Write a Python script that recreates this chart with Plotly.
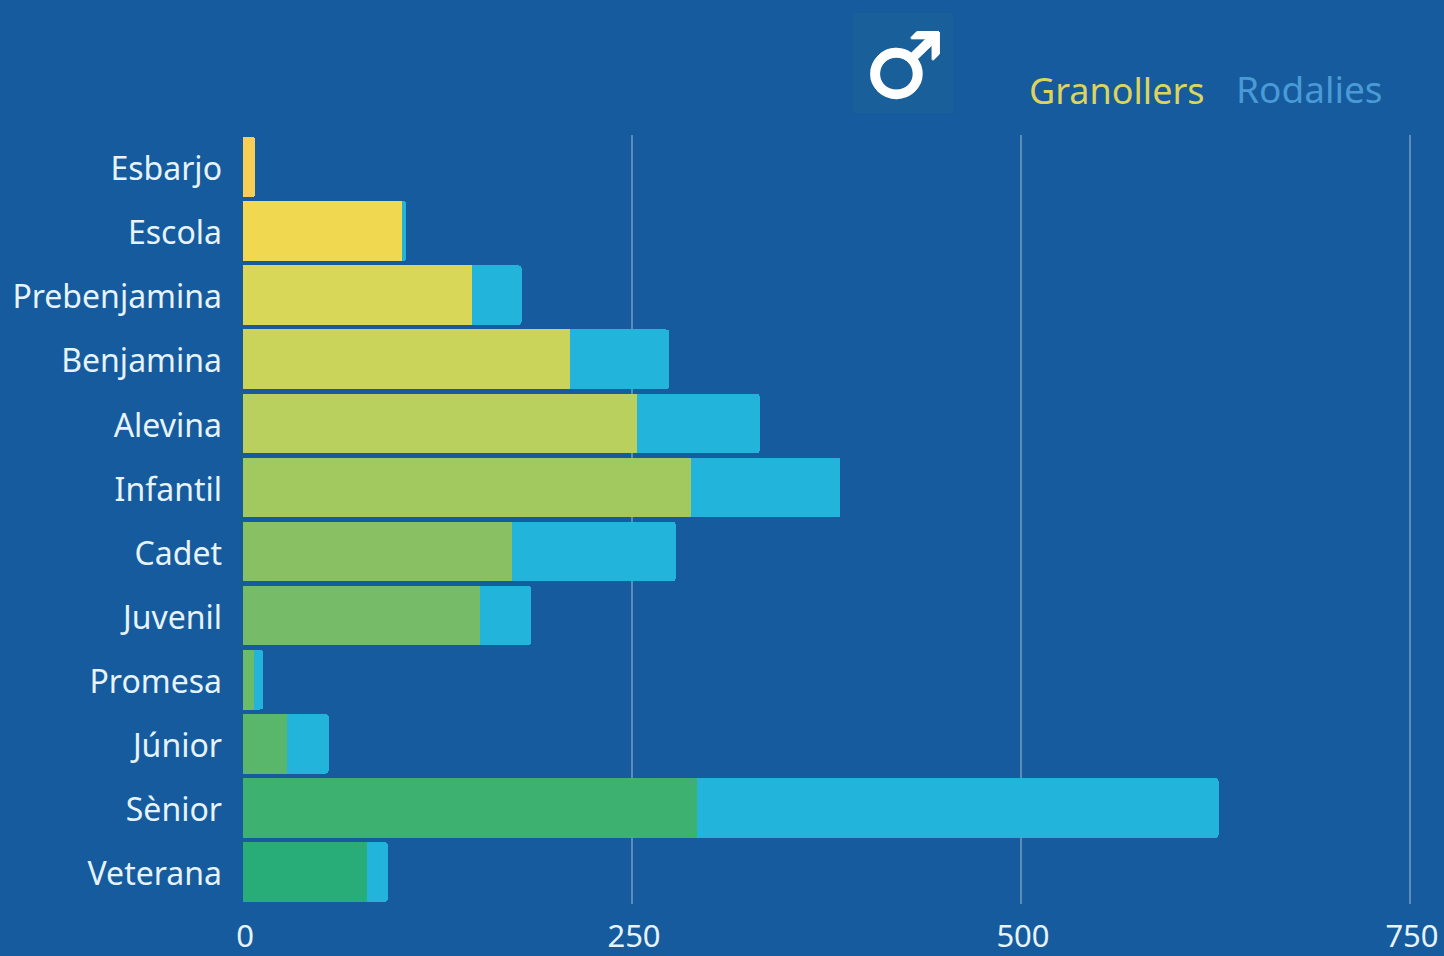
import plotly.graph_objects as go

categories = ["Esbarjo", "Escola", "Prebenjamina", "Benjamina", "Alevina", "Infantil",
              "Cadet", "Juvenil", "Promesa", "Júnior", "Sènior", "Veterana"]
granollers = [8, 102, 147, 210, 253, 288, 173, 152, 7, 28, 292, 80]
rodalies = [0, 3, 32, 64, 79, 96, 105, 33, 6, 27, 335, 13]
granollers_colors = ["#F7CF55", "#F0D950", "#D9D757", "#CAD45A", "#B9D05E", "#A2C860",
                     "#89C063", "#76BC68", "#6CBB68", "#58B76B", "#3DB170", "#29AD78"]
rodalies_color = "#23B4DC"
tick_values = [0, 250, 500, 750]
tick_labels = ["0", "250", "500", "750"]

BG = "#155B9E"
TEXT = "#E6F3FA"
FONT = "Noto Sans"

W, H = 1444, 956
L, R, T, B = 243, 11, 135, 52
def px(x): return (x - L) / (W - L - R)
def py(y): return 1 - (y - T) / (H - T - B)

fig = go.Figure()
fig.add_bar(y=categories, x=granollers, name="Granollers", orientation="h",
            marker=dict(color=granollers_colors, line_width=0))
fig.add_bar(y=categories, x=rodalies, name="Rodalies", orientation="h",
            marker=dict(color=rodalies_color, line_width=0))

fig.update_layout(
    width=W, height=H, autosize=False,
    barmode="stack", bargap=0.07, barcornerradius=3,
    showlegend=False,
    paper_bgcolor=BG, plot_bgcolor=BG,
    margin=dict(l=L, r=R, t=T, b=B, pad=0),
    font=dict(family=FONT, color=TEXT, size=32),
    xaxis=dict(range=[0, 764.8], tickvals=tick_values, ticktext=tick_labels,
               showgrid=True, gridcolor="rgba(255,255,255,0.3)", gridwidth=2,
               zeroline=False, showline=False, ticks="", ticklabelstandoff=11,
               ticklabelshift=2,
               tickfont=dict(size=31, color=TEXT), automargin=False),
    yaxis=dict(categoryorder="array", categoryarray=categories, autorange="reversed",
               showgrid=False, zeroline=False, showline=False, ticks="", ticklabelstandoff=20,
               ticklabelshift=-2,
               tickfont=dict(size=32, color=TEXT), automargin=False),
)

fig.add_shape(type="rect", xref="paper", yref="paper", x0=px(853), x1=px(953), y0=py(13), y1=py(113),
              fillcolor="#195F9A", line_width=0, layer="below")
fig.add_annotation(text="♂", xref="paper", yref="paper", x=px(904), y=py(65), showarrow=False,
                   xanchor="center", yanchor="middle",
                   font=dict(family="DejaVu Sans", size=90, color="#FFFFFF", weight="bold",
                             shadow="1px 0 0 #fff, -1px 0 0 #fff, 0 1px 0 #fff, 0 -1px 0 #fff"))
fig.add_annotation(text="Granollers", xref="paper", yref="paper", x=px(1027), y=py(90), showarrow=False,
                   xanchor="left", yanchor="middle", font=dict(family=FONT, size=36, color="#DCD45C"))
fig.add_annotation(text="Rodalies", xref="paper", yref="paper", x=px(1234), y=py(89), showarrow=False,
                   xanchor="left", yanchor="middle", font=dict(family=FONT, size=37, color="#4A9AD6"))

fig.write_html("out.html", config={"displayModeBar": False},
               post_script="document.body.style.margin='0';")
